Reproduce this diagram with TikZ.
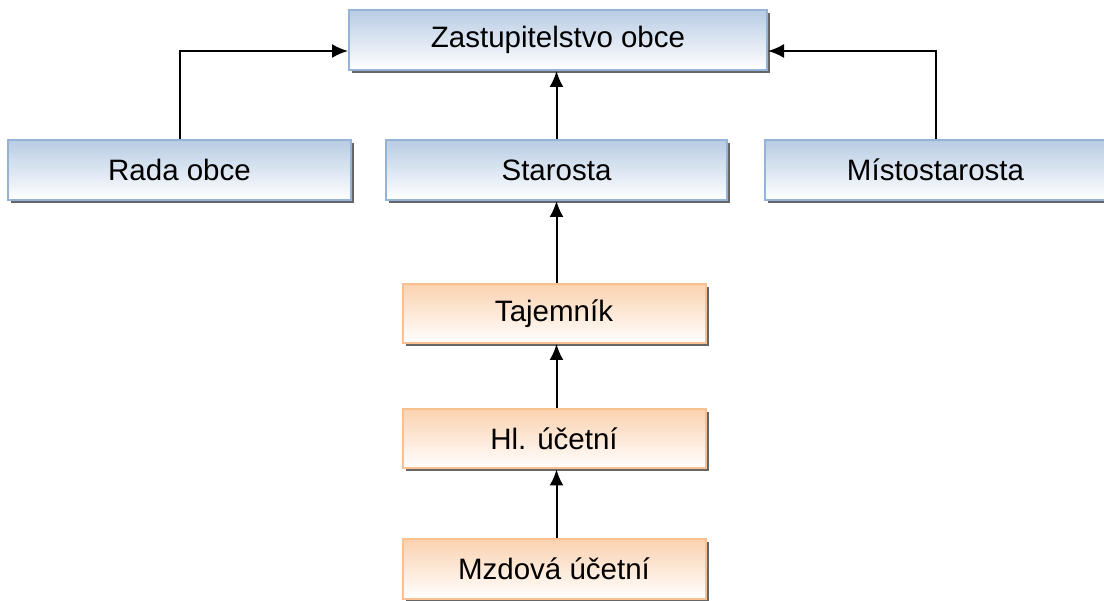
\documentclass[tikz,border=0pt]{standalone}
\usepackage{fontspec}
\setmainfont{Liberation Sans}
\usetikzlibrary{arrows.meta,shadows}

\definecolor{blueline}{HTML}{95B3D7}
\definecolor{bluefill}{HTML}{B8CCE4}
\definecolor{orangeline}{HTML}{FAC090}
\definecolor{orangefill}{HTML}{FBD2B0}

\begin{document}
\begin{tikzpicture}[x=1pt,y=-1pt,
    box/.style={draw,line width=2pt,inner sep=0pt,minimum height=60pt,
      font=\fontsize{29.5}{35}\selectfont,
      general shadow={shadow xshift=3pt,shadow yshift=-3pt,fill=black!60}},
    % y axis points down, so the shading colours are swapped
    bluebox/.style={box,draw=blueline,top color=bluefill,bottom color=white},
    orangebox/.style={box,draw=orangeline,top color=orangefill,bottom color=white,
      minimum width=303pt,minimum height=59pt},
    arr/.style={-{Latex[length=16pt,width=14pt]},line width=2pt}]
  \useasboundingbox (0,0) rectangle (1104,601);

  % Top boxes
  \node[bluebox,minimum width=418pt] (zast) at (558,40) {Zastupitelstvo obce};
  \node[bluebox,minimum width=343pt] (rada) at (179.5,170) {Rada obce};
  \node[bluebox,minimum width=341pt] (star) at (556.5,170) {Starosta};
  \node[bluebox,minimum width=341pt] (mist) at (935.5,170) {Místostarosta};

  % Office boxes
  \node[orangebox] (taj) at (554,313.5) {Tajemník};
  \node[orangebox] (hlu) at (554,439) {Hl. účetní};
  \node[orangebox] (mzd) at (554,569) {Mzdová účetní};

  % Arrows
  \draw[arr] (rada.north) |- ([yshift=-11pt]zast.west);
  \draw[arr] (mist.north) |- ([yshift=-11pt]zast.east);
  \draw[arr] (star.north) -- (star.north |- zast.south);
  \draw[arr] (taj.north -| star) -- (star.south);
  \draw[arr] (hlu.north -| star) -- (taj.south -| star);
  \draw[arr] (mzd.north -| star) -- (hlu.south -| star);

\end{tikzpicture}
\end{document}
